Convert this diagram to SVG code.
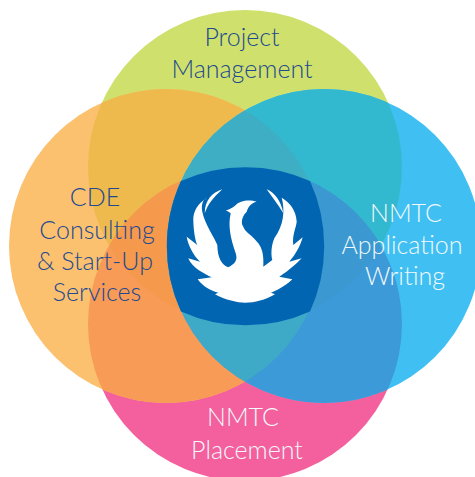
<svg xmlns="http://www.w3.org/2000/svg" width="475" height="477" viewBox="0 0 475 477">
<style>
text{font-family:"Lato","Open Sans","Liberation Sans",sans-serif;font-weight:300;font-size:25px;text-anchor:middle}
.d{fill:#1f4a8f}.l{fill:#f2f8fc}
</style>
<defs>
<clipPath id="cT"><circle cx="245" cy="167" r="157"/></clipPath>
<clipPath id="cB"><circle cx="245" cy="324" r="157"/></clipPath>
<clipPath id="cL"><circle cx="166" cy="246" r="157"/></clipPath>
<clipPath id="cR"><circle cx="324" cy="246" r="157"/></clipPath>
</defs>
<rect width="475" height="477" fill="#fff"/>
<g id="project-management"><circle cx="245" cy="167" r="157" fill="#cfe16c"/></g>
<g id="nmtc-placement"><circle cx="245" cy="324" r="157" fill="#f4609d"/></g>
<g id="cde-consulting"><circle cx="166" cy="246" r="157" fill="#fbc16f"/>
<g clip-path="url(#cT)"><circle cx="166" cy="246" r="157" fill="#eeba4e"/></g>
<g clip-path="url(#cB)"><circle cx="166" cy="246" r="157" fill="#f79b57"/><g clip-path="url(#cT)"><circle cx="166" cy="246" r="157" fill="#f5994c"/></g></g></g>
<g id="nmtc-application"><circle cx="324" cy="246" r="157" fill="#40c0f2"/>
<g clip-path="url(#cT)"><circle cx="324" cy="246" r="157" fill="#33b9cf"/></g>
<g clip-path="url(#cB)"><circle cx="324" cy="246" r="157" fill="#3c9ad8"/><g clip-path="url(#cT)"><circle cx="324" cy="246" r="157" fill="#3b98d0"/></g></g>
<g clip-path="url(#cL)"><g clip-path="url(#cT)"><circle cx="324" cy="246" r="157" fill="#3eaec4"/></g><g clip-path="url(#cB)"><circle cx="324" cy="246" r="157" fill="#3fa9c8"/></g></g></g>
<g id="logo">
<path d="M181 181A157 157 0 0 1 310 181A157 157 0 0 1 310 311.500A157 157 0 0 1 181 311.500A157 157 0 0 1 181 181Z" fill="#0265b1"/>
<path fill="#fff" d="M256.700 201.700C250 199.500 240 200 235 205.700Q229 210 225.700 210.300Q229 212 230.700 213.300C228 225 230 237 235.700 253.300C238 260 235 264 228.300 267.300C222 265 217.500 258 217.300 245C215 238 205 225 202.300 211.700C201 205 203 199 206.700 198.300C198 203 193 212 193.300 220C193.500 230 195 240 197.300 245L186.700 236.700C188 245 193 255 200 261.700L188.300 258.300C192 268 205 274 211.700 277.300L197.700 279.300C203 287 212 291 218.300 292.700L215 294.300C225 300 238 302.700 245 302.700C255 302.700 265 300 275 294.300L271 292.700C280 289 288 284 292.300 279.300L279.300 276.700C290 270 298 262 301.700 258.300L289.300 261.700C295 255 300 247 302.700 237.300L293.300 245C292 235 296 228 296.700 221.700C296 210 290 203 281.700 197.700C285 210 284 225 274.300 238.300C271 246 271 255 272.300 260L263.300 266.700C264 255 262 248 258.300 243.300C252 235 245 232 243.300 226.700C240 222 243 215 246.700 211.700C248 207 251 203 256.700 201.700Z"/>
<path fill="#fff" d="M222.300 189.300C212 192.500 205 200 204.700 213.300C208 204 213 198 222.300 189.300Z"/>
<path fill="#fff" d="M266.700 189.300C275 193 281 201 283.300 213.300C278 204 272 197 266.700 189.300Z"/>
</g>
<g id="labels">
<text class="d" x="242" y="46">Project</text>
<text class="d" x="242" y="78">Management</text>
<text class="d" x="95" y="206">CDE</text>
<text class="d" x="97" y="239">Consulting</text>
<text class="d" x="95" y="270">&amp; Start-Up</text>
<text class="d" x="97" y="301">Services</text>
<text class="l" x="406" y="222">NMTC</text>
<text class="l" x="402" y="254">Application</text>
<text class="l" x="405" y="285">Writing</text>
<text class="l" x="243" y="426">NMTC</text>
<text class="l" x="247" y="459">Placement</text>
</g>
</svg>
